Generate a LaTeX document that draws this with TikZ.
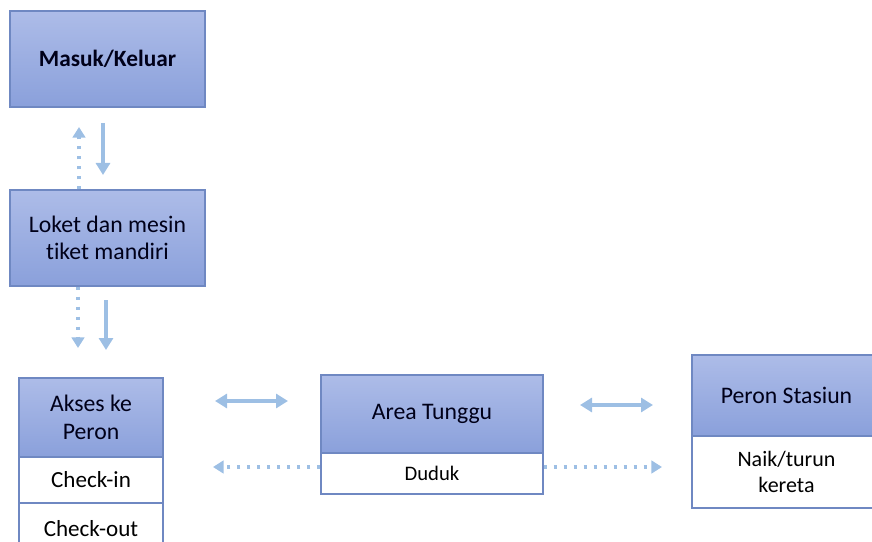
\documentclass[tikz,border=0pt]{standalone}
\usepackage{fontspec}
\setmainfont{Carlito}[Ligatures=NoCommon]
\usetikzlibrary{arrows.meta}

\definecolor{boxtop}{HTML}{ADBCE8}
\definecolor{boxbot}{HTML}{8AA0DB}
\definecolor{boxline}{HTML}{6F88C2}
\definecolor{arrcol}{HTML}{9DBFE4}

\tikzset{
  stage/.style={draw=boxline, line width=0.8pt, top color=boxtop, bottom color=boxbot,
    align=center, inner sep=0pt, text=black!90!blue, font=\fontsize{17.8}{20.5}\selectfont},
  activity/.style={draw=boxline, line width=0.8pt, fill=white,
    align=center, inner sep=0pt, font=\fontsize{17.3}{19.5}\selectfont},
  flowtip/.tip={Triangle[width=10.5pt,length=9pt]},
  flow/.style={draw=arrcol, line width=3pt, -flowtip},
  flowboth/.style={draw=arrcol, line width=3pt, flowtip-flowtip},
  altflow/.style={draw=arrcol, line width=2.6pt, dash pattern=on 2.6pt off 4.9pt,
    -{Triangle[width=9.5pt,length=8pt]}},
}

\begin{document}
\begin{tikzpicture}[x=0.75pt, y=-0.75pt]

\clip (0, 0) rectangle (872, 542);

% boxes
\node [stage, minimum width=146.25pt, minimum height=72pt, font=\fontsize{17.5}{20}\selectfont\bfseries]
  (masuk) at (107.5, 59) {Masuk/Keluar};
\node [stage, minimum width=146.25pt, minimum height=72pt]
  (loket) at (107.5, 238) {Loket dan mesin\\tiket mandiri};

\node [stage, minimum width=108pt, minimum height=59.25pt] (akses) at (91, 417.5) {Akses ke\\Peron};
\node [activity, minimum width=108pt, minimum height=34.5pt] (checkin) at (91, 480) {Check-in};
\node [activity, minimum width=108pt, minimum height=39pt] (checkout) at (91, 529) {Check-out};

\node [stage, minimum width=166.5pt, minimum height=58.5pt] (area) at (432, 414) {Area Tunggu};
\node [activity, minimum width=166.5pt, minimum height=30.75pt, font=\fontsize{15.5}{17}\selectfont]
  (duduk) at (432, 473.5) {Duduk};

\node [stage, minimum width=141.75pt, minimum height=60.75pt] (peron) at (786.5, 395.5) {Peron Stasiun};
\node [activity, minimum width=141.75pt, minimum height=54pt, font=\fontsize{16.5}{19.5}\selectfont]
  (naik) at (786.5, 472) {Naik/turun\\kereta};

% arrow ends
\coordinate (upTip)   at (79, 127);
\coordinate (inTop)   at (103, 123);
\coordinate (inTip)   at (103, 175);
\coordinate (outTip)  at (78, 348);
\coordinate (goTop)   at (106, 300);
\coordinate (goTip)   at (106, 350);
\coordinate (waitL)   at (215, 401);
\coordinate (waitR)   at (288, 401);
\coordinate (backTip) at (213, 467);
\coordinate (platL)   at (580, 405);
\coordinate (platR)   at (653, 405);
\coordinate (fwdTip)  at (662, 467);

% flows
\draw [altflow] (loket.north -| upTip) -- (upTip);
\draw [flow] (inTop) -- (inTip);
\draw [altflow] (loket.south -| outTip) -- (outTip);
\draw [flow] (goTop) -- (goTip);

\draw [flowboth] (waitL) -- (waitR);
\draw [altflow] (duduk.west |- backTip) -- (backTip);
\draw [flowboth] (platL) -- (platR);
\draw [altflow] (duduk.east |- fwdTip) -- (fwdTip);

\end{tikzpicture}
\end{document}
